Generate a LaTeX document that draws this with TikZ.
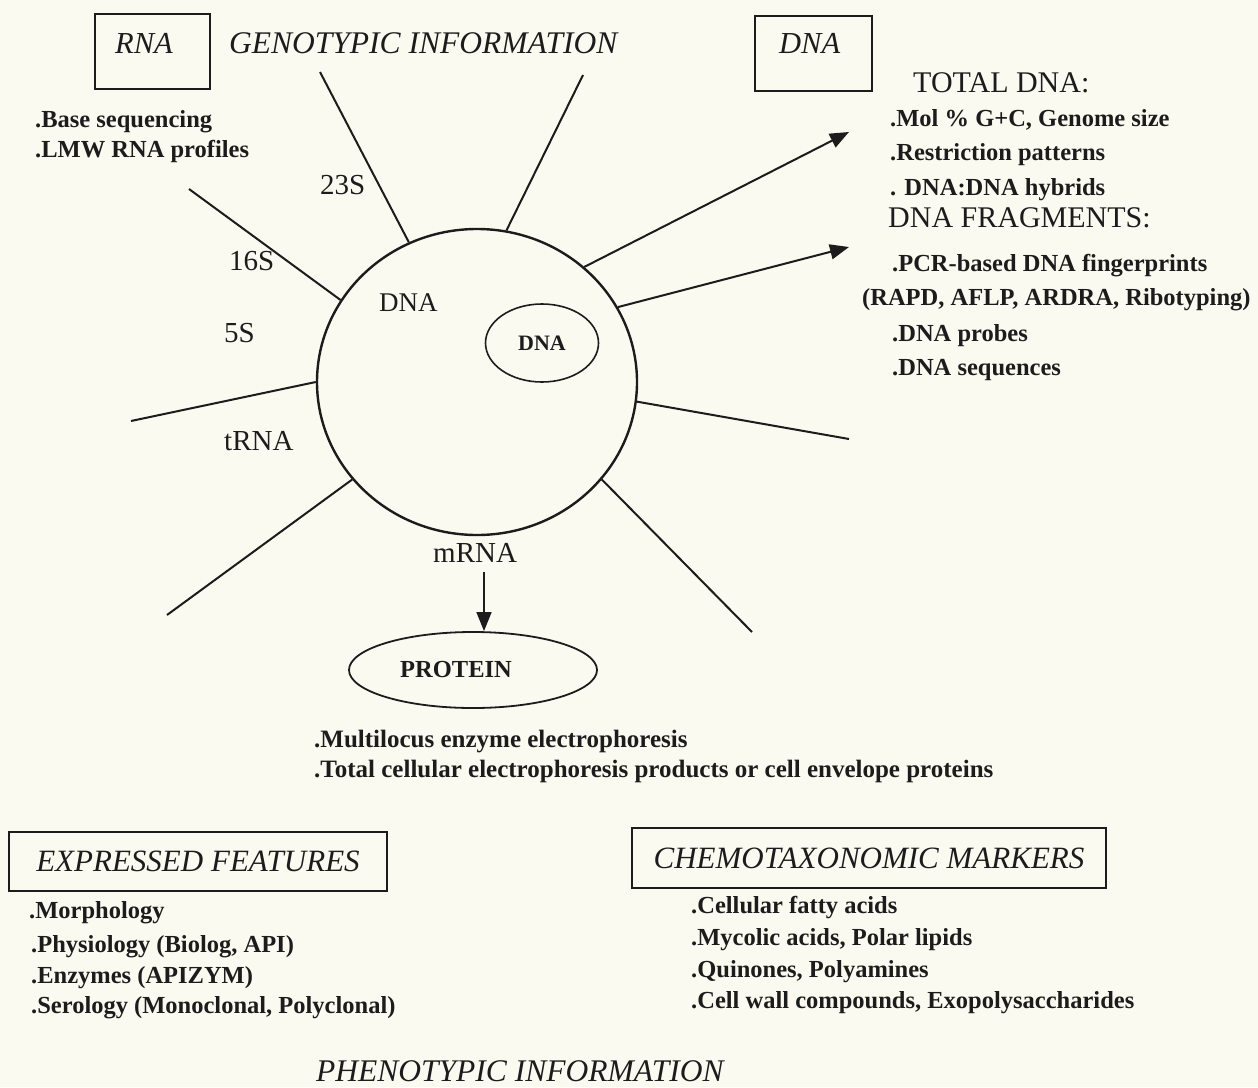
\documentclass[tikz,border=0pt]{standalone}
\usepackage{fontspec}
\setmainfont{Liberation Serif}
\usetikzlibrary{arrows.meta,shapes.geometric}
\definecolor{paper}{RGB}{251,250,241}
\definecolor{ink}{RGB}{28,28,28}
\begin{document}
\begin{tikzpicture}[x=1pt,y=-1pt,
  lst/.style={font=\fontsize{24.5}{29}\selectfont\bfseries, anchor=base west, inner sep=0, text=ink},
  head/.style={font=\fontsize{30}{36}\selectfont, anchor=base west, inner sep=0, text=ink},
  ital/.style={font=\fontsize{31.5}{36}\selectfont\itshape, anchor=base west, inner sep=0, text=ink},
  lbl/.style={font=\fontsize{29}{34}\selectfont, anchor=base west, inner sep=0, text=ink},
  boxed/.style={draw=ink, line width=1.6pt, inner sep=0},
  spoke/.style={draw=ink, line width=2pt},
  arr/.style={spoke, -{Triangle[length=19pt,width=15pt]}},
  arrs/.style={draw=ink, line width=1.6pt, -{Triangle[length=19pt,width=15pt]}},
]
\useasboundingbox (0,0) rectangle (1258,1087);
\fill[paper] (0,0) rectangle (1258,1087);

% top boxes and title
\node[boxed, minimum width=115pt, minimum height=75pt, anchor=north west] (rnabox) at (94,13) {};
\node[ital, font=\fontsize{30.5}{36}\selectfont\itshape] (rnatxt) at (115,53) {RNA};
\node[ital] (geno) at (229,53) {GENOTYPIC INFORMATION};
\node[boxed, minimum width=117pt, minimum height=75pt, anchor=north west] (dnabox) at (754,15) {};
\node[ital, font=\fontsize{30.5}{36}\selectfont\itshape] (dnatxt) at (779,53) {DNA};

% RNA list
\node[lst] (r1) at (35,127) {.Base sequencing};
\node[lst] (r2) at (35,157) {.LMW RNA profiles};

% DNA lists
\node[head] (tot) at (913,92) {TOTAL DNA:};
\node[lst] (d1) at (890,126) {.Mol \% G+C, Genome size};
\node[lst] (d2) at (890,160) {.Restriction patterns};
\node[lst] (d3) at (890,195) {. DNA:DNA hybrids};
\node[head] (frag) at (888,227) {DNA FRAGMENTS:};
\node[lst] (d4) at (892,271) {.PCR-based DNA fingerprints};
\node[lst] (d5) at (862,305) {(RAPD, AFLP, ARDRA, Ribotyping)};
\node[lst] (d6) at (892,341) {.DNA probes};
\node[lst] (d7) at (892,375) {.DNA sequences};

% cell
\node[ellipse, draw=ink, line width=2.4pt, minimum width=320pt, minimum height=306pt, inner sep=0] (cell) at (477,382) {};
\node[ellipse, draw=ink, line width=1.6pt, minimum width=113pt, minimum height=78pt, inner sep=0,
      font=\fontsize{22}{26}\selectfont\bfseries, text=ink] (plasmid) at (542,343) {DNA};
\node[lbl, font=\fontsize{27}{32}\selectfont] (chrom) at (379,311) {DNA};

% spoke labels
\node[lbl] (l23) at (320,194) {23S};
\node[lbl] (l16) at (229,270) {16S};
\node[lbl] (l5) at (224,342) {5S};
\node[lbl] (lt) at (224,450) {tRNA};
\node[lbl] (lm) at (433,562) {mRNA};

% spokes
\coordinate (e23) at (320,72);
\coordinate (etr) at (583,75);
\coordinate (e16) at (189,189);
\coordinate (el) at (131,421);
\coordinate (ell) at (167,615);
\coordinate (er) at (849,439);
\coordinate (elr) at (752,632);
\coordinate (t1) at (849,132);
\coordinate (t2) at (849,247);
\draw[spoke] (e23) -- (cell.116);
\draw[spoke] (etr) -- (cell.79);
\draw[spoke] (e16) -- (cell.149);
\draw[spoke] (el) -- (cell.180);
\draw[spoke] (ell) -- (cell.218);
\draw[spoke] (er) -- (cell.353);
\draw[spoke] (elr) -- (cell.322);
\draw[arr] (cell.47) -- (t1);
\draw[arr] (cell.28) -- (t2);

% protein
\node[ellipse, draw=ink, line width=1.8pt, minimum width=248pt, minimum height=76pt, inner sep=0] (prot) at (473,670) {};
\node[lst] (ptxt) at (400,677) {PROTEIN};
\coordinate (m0) at (484,572);
\draw[arrs] (m0) -- (m0 |- prot.north);
\node[lst, font=\fontsize{25}{29}\selectfont\bfseries] (p1) at (314,747) {.Multilocus enzyme electrophoresis};
\node[lst, font=\fontsize{25}{29}\selectfont\bfseries] (p2) at (314,777) {.Total cellular electrophoresis products or cell envelope proteins};

% expressed features
\node[boxed, minimum width=378pt, minimum height=59pt, font=\fontsize{31}{36}\selectfont\itshape, text=ink] (expr) at (198,861.5) {EXPRESSED FEATURES};
\node[lst] (x1) at (29,918) {.Morphology};
\node[lst] (x2) at (31,952) {.Physiology (Biolog, API)};
\node[lst] (x3) at (31,983) {.Enzymes (APIZYM)};
\node[lst] (x4) at (31,1013) {.Serology (Monoclonal, Polyclonal)};

% chemotaxonomic
\node[boxed, minimum width=474pt, minimum height=60pt, font=\fontsize{31}{36}\selectfont\itshape, text=ink] (chem) at (869,858) {CHEMOTAXONOMIC MARKERS};
\node[lst] (c1) at (691,913) {.Cellular fatty acids};
\node[lst] (c2) at (691,945) {.Mycolic acids, Polar lipids};
\node[lst] (c3) at (691,977) {.Quinones, Polyamines};
\node[lst] (c4) at (691,1008) {.Cell wall compounds, Exopolysaccharides};

\node[ital] (pheno) at (316,1081) {PHENOTYPIC INFORMATION};
\end{tikzpicture}
\end{document}
